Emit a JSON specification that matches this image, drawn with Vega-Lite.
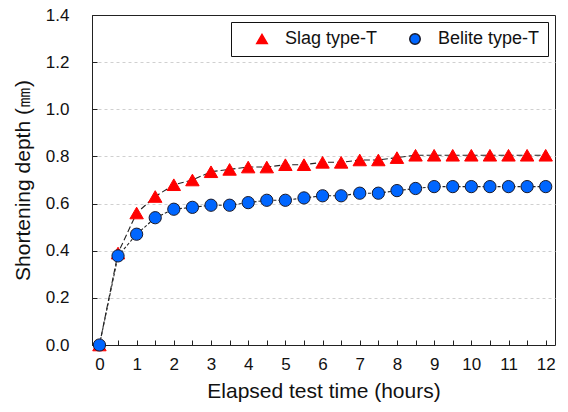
{
  "$schema": "https://vega.github.io/schema/vega-lite/v6.json",
  "width": 463,
  "height": 330,
  "autosize": "none",
  "padding": {"left": 92, "top": 15, "right": 13, "bottom": 67},
  "background": "white",
  "config": {
    "font": "Liberation Sans",
    "view": {"stroke": "#222", "strokeWidth": 1}
  },
  "data": {
    "values": [
      {"t": 0, "v": 0.0, "s": "Slag type-T"},
      {"t": 0.5, "v": 0.39, "s": "Slag type-T"},
      {"t": 1, "v": 0.56, "s": "Slag type-T"},
      {"t": 1.5, "v": 0.63, "s": "Slag type-T"},
      {"t": 2, "v": 0.68, "s": "Slag type-T"},
      {"t": 2.5, "v": 0.70, "s": "Slag type-T"},
      {"t": 3, "v": 0.735, "s": "Slag type-T"},
      {"t": 3.5, "v": 0.745, "s": "Slag type-T"},
      {"t": 4, "v": 0.755, "s": "Slag type-T"},
      {"t": 4.5, "v": 0.755, "s": "Slag type-T"},
      {"t": 5, "v": 0.765, "s": "Slag type-T"},
      {"t": 5.5, "v": 0.765, "s": "Slag type-T"},
      {"t": 6, "v": 0.775, "s": "Slag type-T"},
      {"t": 6.5, "v": 0.775, "s": "Slag type-T"},
      {"t": 7, "v": 0.785, "s": "Slag type-T"},
      {"t": 7.5, "v": 0.785, "s": "Slag type-T"},
      {"t": 8, "v": 0.795, "s": "Slag type-T"},
      {"t": 8.5, "v": 0.805, "s": "Slag type-T"},
      {"t": 9, "v": 0.805, "s": "Slag type-T"},
      {"t": 9.5, "v": 0.805, "s": "Slag type-T"},
      {"t": 10, "v": 0.805, "s": "Slag type-T"},
      {"t": 10.5, "v": 0.805, "s": "Slag type-T"},
      {"t": 11, "v": 0.805, "s": "Slag type-T"},
      {"t": 11.5, "v": 0.805, "s": "Slag type-T"},
      {"t": 12, "v": 0.805, "s": "Slag type-T"},
      {"t": 0, "v": 0.0, "s": "Belite type-T"},
      {"t": 0.5, "v": 0.378, "s": "Belite type-T"},
      {"t": 1, "v": 0.47, "s": "Belite type-T"},
      {"t": 1.5, "v": 0.54, "s": "Belite type-T"},
      {"t": 2, "v": 0.576, "s": "Belite type-T"},
      {"t": 2.5, "v": 0.584, "s": "Belite type-T"},
      {"t": 3, "v": 0.593, "s": "Belite type-T"},
      {"t": 3.5, "v": 0.593, "s": "Belite type-T"},
      {"t": 4, "v": 0.604, "s": "Belite type-T"},
      {"t": 4.5, "v": 0.614, "s": "Belite type-T"},
      {"t": 5, "v": 0.614, "s": "Belite type-T"},
      {"t": 5.5, "v": 0.624, "s": "Belite type-T"},
      {"t": 6, "v": 0.633, "s": "Belite type-T"},
      {"t": 6.5, "v": 0.633, "s": "Belite type-T"},
      {"t": 7, "v": 0.644, "s": "Belite type-T"},
      {"t": 7.5, "v": 0.644, "s": "Belite type-T"},
      {"t": 8, "v": 0.655, "s": "Belite type-T"},
      {"t": 8.5, "v": 0.664, "s": "Belite type-T"},
      {"t": 9, "v": 0.672, "s": "Belite type-T"},
      {"t": 9.5, "v": 0.672, "s": "Belite type-T"},
      {"t": 10, "v": 0.672, "s": "Belite type-T"},
      {"t": 10.5, "v": 0.672, "s": "Belite type-T"},
      {"t": 11, "v": 0.672, "s": "Belite type-T"},
      {"t": 11.5, "v": 0.672, "s": "Belite type-T"},
      {"t": 12, "v": 0.672, "s": "Belite type-T"}
    ]
  },
  "encoding": {
    "x": {
      "field": "t",
      "type": "quantitative",
      "scale": {"domain": [-0.2, 12.25], "nice": false, "zero": false},
      "axis": {
        "title": "Elapsed test time (hours)",
        "values": [0,0.5,1,1.5,2,2.5,3,3.5,4,4.5,5,5.5,6,6.5,7,7.5,8,8.5,9,9.5,10,10.5,11,11.5,12],
        "labelExpr": "datum.value % 1 ? '' : format(datum.value, 'd')",
        "grid": false,
        "domainColor": "#222",
        "tickColor": "#222",
        "tickSize": -5,
        "labelPadding": 16,
        "labelFontSize": 17,
        "labelColor": "#111",
        "titleFontSize": 21,
        "titleFontWeight": "normal",
        "titleColor": "#111",
        "titlePadding": 8
      }
    },
    "y": {
      "field": "v",
      "type": "quantitative",
      "scale": {"domain": [0, 1.4], "nice": false},
      "axis": {
        "title": "Shortening depth (㎜)",
        "values": [0,0.2,0.4,0.6,0.8,1.0,1.2,1.4],
        "format": ".1f",
        "grid": true,
        "gridColor": "#d0d0d0",
        "gridDash": [3, 3],
        "gridWidth": 1,
        "gridOpacity": {"condition": {"test": "datum.value >= 1.39", "value": 0}, "value": 1},
        "domainColor": "#222",
        "tickColor": "#222",
        "tickSize": -5,
        "labelPadding": 28,
        "labelFontSize": 17,
        "labelColor": "#111",
        "titleFontSize": 21,
        "titleFontWeight": "normal",
        "titleColor": "#111",
        "titlePadding": 12
      }
    }
  },
  "layer": [
    {
      "transform": [{"filter": "datum.s === 'Slag type-T'"}],
      "mark": {"type": "line", "color": "#222", "strokeWidth": 1.1, "strokeDash": [6, 3]},
      "encoding": {}
    },
    {
      "transform": [{"filter": "datum.s === 'Belite type-T'"}],
      "mark": {"type": "line", "color": "#222", "strokeWidth": 1.1, "strokeDash": [3, 2]},
      "encoding": {}
    },
    {
      "mark": {"type": "point", "filled": true, "opacity": 1, "strokeWidth": 1},
      "encoding": {
        "size": {"condition": {"test": "datum.s === 'Slag type-T'", "value": 180}, "value": 150},
        "shape": {
          "field": "s",
          "type": "nominal",
          "scale": {"domain": ["Slag type-T", "Belite type-T"], "range": ["triangle-up", "circle"]},
          "legend": {
            "title": null,
            "orient": "top-right",
            "direction": "horizontal",
            "offset": 7,
            "fillColor": "white",
            "strokeColor": "#111",
            "padding": 8,
            "labelFontSize": 18,
            "labelColor": "#111",
            "symbolSize": 110,
            "symbolOffset": 14,
            "columnPadding": 14,
            "labelOffset": 14
          }
        },
        "fill": {
          "field": "s",
          "type": "nominal",
          "scale": {"domain": ["Slag type-T", "Belite type-T"], "range": ["#ff0000", "#0066ff"]}
        },
        "stroke": {
          "field": "s",
          "type": "nominal",
          "scale": {"domain": ["Slag type-T", "Belite type-T"], "range": ["#ff0000", "#1a1a2a"]}
        }
      }
    }
  ]
}
